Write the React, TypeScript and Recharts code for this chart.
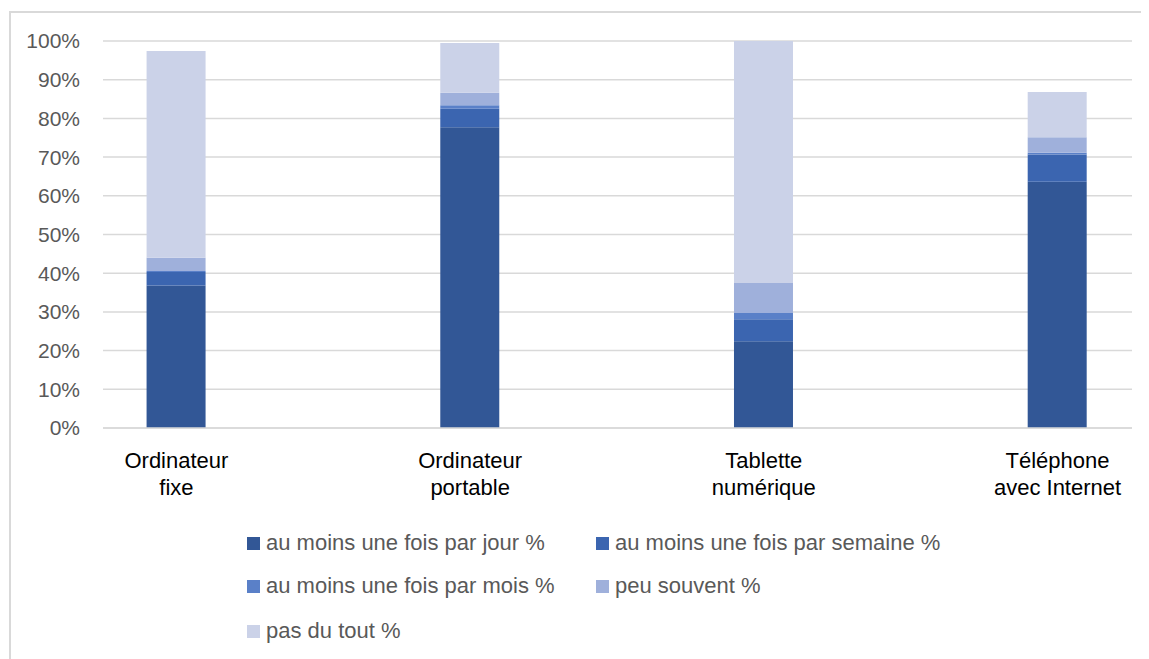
import React from "react";
import { BarChart, Bar, XAxis, YAxis, CartesianGrid, Legend } from "recharts";

const categories = ["Ordinateur fixe", "Ordinateur portable", "Tablette numérique", "Téléphone avec Internet"];
const categoryLines = [
  ["Ordinateur", "fixe"],
  ["Ordinateur", "portable"],
  ["Tablette", "numérique"],
  ["Téléphone", "avec Internet"],
];
const jour = [36.8, 77.7, 22.4, 63.6];
const semaine = [3.5, 4.8, 5.7, 7.1];
const mois = [0.3, 0.9, 1.6, 0.4];
const peu = [3.4, 3.2, 7.8, 4.0];
const pasDuTout = [53.4, 12.9, 62.5, 11.7];
const yTicks = [0, 10, 20, 30, 40, 50, 60, 70, 80, 90, 100];

const seriesNames = [
  "au moins une fois par jour %",
  "au moins une fois par semaine %",
  "au moins une fois par mois %",
  "peu souvent %",
  "pas du tout %",
];
const seriesKeys = ["jour", "semaine", "mois", "peu", "pas"];
const seriesColors = ["#325796", "#3B65B0", "#5A80C8", "#9FB0DB", "#CBD2E8"];

const data = categories.map((c, i) => ({
  idx: i,
  name: c,
  jour: jour[i],
  semaine: semaine[i],
  mois: mois[i],
  peu: peu[i],
  pas: pasDuTout[i],
}));

const FONT = "'Liberation Sans', Arial, sans-serif";

const CategoryTick = (props: any) => {
  const { x, y, payload } = props;
  const lines = categoryLines[payload.value] || [];
  return (
    <g>
      {lines.map((l: string, k: number) => (
        <text
          key={k}
          x={x}
          y={y + 32 + k * 27}
          textAnchor="middle"
          fontFamily={FONT}
          fontSize={22}
          fill="#000000"
        >
          {l}
        </text>
      ))}
    </g>
  );
};

const LegendContent = () => {
  const colX = [239, 588];
  const rowY = [535, 578, 623];
  return (
    <div style={{ position: "relative", width: 1141, height: 0 }}>
      {seriesNames.map((n, i) => {
        const col = i % 2;
        const row = Math.floor(i / 2);
        return (
          <div
            key={n}
            style={{
              position: "absolute",
              left: colX[col],
              top: rowY[row] - 14,
              height: 28,
              display: "flex",
              alignItems: "center",
              whiteSpace: "nowrap",
              fontFamily: FONT,
              fontSize: 22,
              color: "#595959",
            }}
          >
            <span
              style={{
                display: "inline-block",
                width: 13,
                height: 13,
                background: seriesColors[i],
                marginRight: 6,
              }}
            />
            {n}
          </div>
        );
      })}
    </div>
  );
};

export default function App() {
  return (
    <div style={{ position: "relative", width: 1141, height: 651 }}>
      <div
        style={{
          position: "absolute",
          left: 1,
          top: 3,
          width: 1140,
          height: 648,
          borderLeft: "2px solid #D9D9D9",
          borderTop: "2px solid #D9D9D9",
          boxSizing: "border-box",
        }}
      />
      <div style={{ position: "absolute", left: 0, top: 0 }}>
        <BarChart
          width={1141}
          height={651}
          data={data}
          margin={{ top: 33, right: 17, left: 0, bottom: 171 }}
        >
          <CartesianGrid vertical={false} stroke="#D9D9D9" strokeWidth={1.5} />
          <XAxis
            dataKey="idx"
            type="number"
            domain={[-0.25, 3.2535]}
            ticks={[0, 1, 2, 3]}
            allowDataOverflow
            tickLine={false}
            axisLine={{ stroke: "#D9D9D9", strokeWidth: 1.5 }}
            tick={<CategoryTick />}
            height={60}
            interval={0}
          />
          <YAxis
            domain={[0, 100]}
            ticks={yTicks}
            tickFormatter={(v: number) => `${v}%`}
            axisLine={false}
            tickLine={false}
            tickSize={0}
            tickMargin={23}
            width={95}
            tick={{ fontFamily: FONT, fontSize: 21, fill: "#595959" }}
            interval={0}
          />
          {seriesKeys.map((k, i) => (
            <Bar
              key={k}
              dataKey={k}
              name={seriesNames[i]}
              stackId="s"
              fill={seriesColors[i]}
              barSize={59}
              isAnimationActive={false}
            />
          ))}
          <Legend
            content={<LegendContent />}
            wrapperStyle={{ position: "absolute", left: 0, top: 0, width: 1141, height: 0 }}
          />
        </BarChart>
      </div>
    </div>
  );
}
